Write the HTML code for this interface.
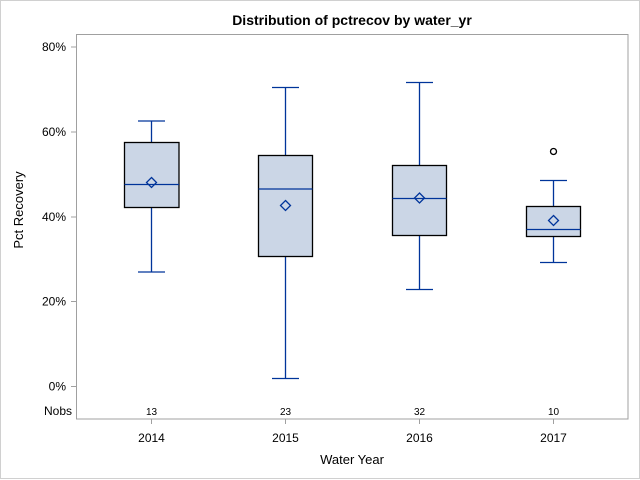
<!DOCTYPE html>
<html><head><style>body{margin:0;background:#fff}svg{display:block}</style></head><body>
<svg width="640" height="480" xmlns="http://www.w3.org/2000/svg" font-family="Liberation Sans, Arial, sans-serif">
<rect x="0.5" y="0.5" width="639" height="478" fill="#fff" stroke="#d0d0d0"/>
<text x="352" y="25" text-anchor="middle" font-size="14" font-weight="bold">Distribution of pctrecov by water_yr</text>
<rect x="76.5" y="34.5" width="551.5" height="384.5" fill="none" stroke="#a0a0a0"/>
<g stroke="#a0a0a0"><line x1="71" y1="47" x2="76.5" y2="47"/><line x1="71" y1="132" x2="76.5" y2="132"/><line x1="71" y1="217" x2="76.5" y2="217"/><line x1="71" y1="301.5" x2="76.5" y2="301.5"/><line x1="71" y1="386.5" x2="76.5" y2="386.5"/>
<line x1="151.5" y1="419" x2="151.5" y2="424"/><line x1="285.5" y1="419" x2="285.5" y2="424"/><line x1="419.5" y1="419" x2="419.5" y2="424"/><line x1="553.5" y1="419" x2="553.5" y2="424"/></g>
<g font-size="12" text-anchor="end" fill="#000"><text x="66" y="51">80%</text><text x="66" y="136">60%</text><text x="66" y="221">40%</text><text x="66" y="305.5">20%</text><text x="66" y="390.5">0%</text><text x="72" y="415">Nobs</text></g>
<g font-size="10" text-anchor="middle"><text x="151.5" y="415">13</text><text x="285.5" y="415">23</text><text x="419.5" y="415">32</text><text x="553.5" y="415">10</text></g>
<g font-size="12" text-anchor="middle"><text x="151.5" y="442">2014</text><text x="285.5" y="442">2015</text><text x="419.5" y="442">2016</text><text x="553.5" y="442">2017</text></g>
<text x="352" y="464" text-anchor="middle" font-size="13">Water Year</text>
<text transform="translate(23,210) rotate(-90)" text-anchor="middle" font-size="13">Pct Recovery</text>
<g stroke-width="1.3">
<g stroke="#00349a"><line x1="151.5" y1="121" x2="151.5" y2="272"/><line x1="138" y1="121" x2="165" y2="121"/><line x1="138" y1="272" x2="165" y2="272"/></g>
<rect x="124.5" y="142.5" width="54.5" height="65" fill="#cbd6e6" stroke="#000"/>
<line x1="124.5" y1="184.5" x2="179" y2="184.5" stroke="#00349a"/>
<path d="M151.5 177.5 L156.5 182.5 L151.5 187.5 L146.5 182.5Z" fill="none" stroke="#00349a"/>
<g stroke="#00349a"><line x1="285.5" y1="87.5" x2="285.5" y2="378.5"/><line x1="272" y1="87.5" x2="299" y2="87.5"/><line x1="272" y1="378.5" x2="299" y2="378.5"/></g>
<rect x="258.5" y="155.5" width="54" height="101" fill="#cbd6e6" stroke="#000"/>
<line x1="258.5" y1="189" x2="312.5" y2="189" stroke="#00349a"/>
<path d="M285.5 200.5 L290.5 205.5 L285.5 210.5 L280.5 205.5Z" fill="none" stroke="#00349a"/>
<g stroke="#00349a"><line x1="419.5" y1="82.5" x2="419.5" y2="289.5"/><line x1="406" y1="82.5" x2="433" y2="82.5"/><line x1="406" y1="289.5" x2="433" y2="289.5"/></g>
<rect x="392.5" y="165.5" width="54" height="70" fill="#cbd6e6" stroke="#000"/>
<line x1="392.5" y1="198.5" x2="446.5" y2="198.5" stroke="#00349a"/>
<path d="M419.5 193 L424.5 198 L419.5 203 L414.5 198Z" fill="none" stroke="#00349a"/>
<g stroke="#00349a"><line x1="553.5" y1="180.5" x2="553.5" y2="262.5"/><line x1="540" y1="180.5" x2="567" y2="180.5"/><line x1="540" y1="262.5" x2="567" y2="262.5"/></g>
<rect x="526.5" y="206.5" width="54" height="30" fill="#cbd6e6" stroke="#000"/>
<line x1="526.5" y1="229.5" x2="580.5" y2="229.5" stroke="#00349a"/>
<path d="M553.5 215.5 L558.5 220.5 L553.5 225.5 L548.5 220.5Z" fill="none" stroke="#00349a"/>
<circle cx="553.5" cy="151.5" r="3" fill="none" stroke="#000"/>
</g>
</svg>
</body></html>
